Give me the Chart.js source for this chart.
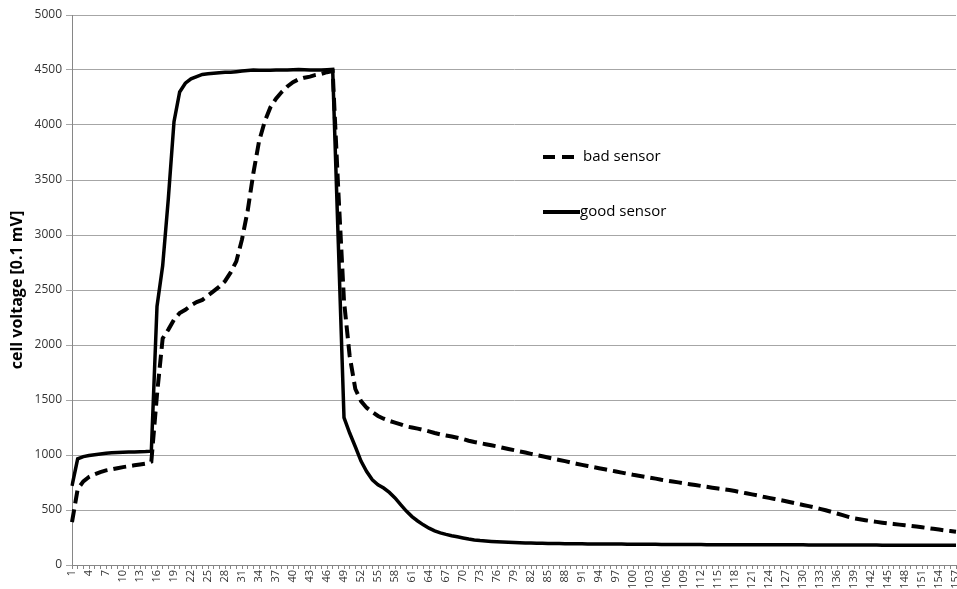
<!DOCTYPE html>
<html>
<head>
<meta charset="utf-8">
<title>cell voltage</title>
<script src="https://cdn.jsdelivr.net/npm/chart.js@4/dist/chart.umd.min.js"></script>
<style>
  html, body { margin: 0; padding: 0; background: #fff; }
  #wrap { width: 957px; height: 589px; }
</style>
</head>
<body>
<div id="wrap"><canvas id="voltageChart" width="957" height="589"></canvas></div>
<script>
// sample number along the x axis (1 .. 157)
const categories = Array.from({ length: 157 }, (_, i) => String(i + 1));

// cell voltage in 0.1 mV
const badSensor = [
  390, 690, 760, 800, 825, 845, 860, 870, 880, 890,
  898, 906, 914, 922, 940, 1550, 2060, 2140, 2230, 2290,
  2320, 2360, 2390, 2410, 2450, 2490, 2530, 2580, 2660, 2760,
  2960, 3220, 3560, 3850, 4030, 4160, 4240, 4300, 4350, 4390,
  4415, 4430, 4440, 4455, 4465, 4480, 4490, 3400, 2400, 1900,
  1600, 1490, 1430, 1390, 1355, 1330, 1310, 1295, 1278, 1260,
  1250, 1240, 1228, 1215, 1200, 1188, 1178, 1168, 1157, 1145,
  1130, 1118, 1108, 1098, 1088, 1078, 1066, 1055, 1044, 1033,
  1022, 1010, 998, 988, 977, 966, 955, 944, 932, 921,
  910, 900, 890, 880, 870, 860, 850, 840, 830, 820,
  812, 803, 794, 785, 775, 767, 759, 751, 743, 735,
  727, 719, 711, 703, 695, 688, 681, 672, 662, 652,
  642, 632, 620, 610, 600, 590, 580, 568, 557, 546,
  535, 523, 510, 498, 483, 468, 453, 438, 425, 416,
  407, 399, 392, 385, 379, 373, 367, 361, 355, 349,
  343, 336, 329, 322, 315, 309, 303
];

const goodSensor = [
  720, 965, 985, 995, 1003, 1010, 1015, 1020, 1022, 1025,
  1027, 1028, 1030, 1031, 1035, 2350, 2720, 3330, 4030, 4300,
  4380, 4420, 4440, 4460, 4465, 4470, 4475, 4480, 4480, 4485,
  4490, 4495, 4500, 4498, 4497, 4498, 4499, 4500, 4500, 4502,
  4505, 4503, 4500, 4500, 4500, 4502, 4505, 2920, 1340, 1200,
  1075, 945, 850, 775, 730, 700, 660, 610, 548, 490,
  440, 400, 365, 335, 310, 292, 278, 266, 256, 246,
  236, 228, 222, 218, 214, 211, 208, 206, 204, 202,
  200, 199, 198, 197, 196, 195, 195, 194, 194, 193,
  193, 192, 192, 191, 191, 190, 190, 190, 189, 189,
  188, 188, 188, 188, 187, 187, 187, 187, 186, 186,
  186, 186, 185, 185, 185, 185, 185, 185, 185, 185,
  184, 184, 184, 184, 184, 183, 183, 183, 183, 183,
  182, 182, 182, 182, 182, 182, 181, 181, 181, 181,
  181, 181, 181, 180, 180, 180, 180, 180, 180, 180,
  180, 180, 180, 180, 180, 180, 180
];

const yTicks = [0, 500, 1000, 1500, 2000, 2500, 3000, 3500, 4000, 4500, 5000];
const seriesNames = ['bad sensor', 'good sensor'];

const FONT = "'Open Sans', 'Liberation Sans', sans-serif";

// legend drawn inside the plot, like the original
const innerLegend = {
    id: 'innerLegend',
    afterDraw(chart) {
        const ctx = chart.ctx;
        const rows = [
            { name: seriesNames[0], y: 157, x0: 543, x1: 576, dash: [12, 7], textX: 583 },
            { name: seriesNames[1], y: 212, x0: 543, x1: 580, dash: [], textX: 580 }
        ];
        ctx.save();
        rows.forEach(r => {
            ctx.beginPath();
            ctx.setLineDash(r.dash);
            ctx.lineWidth = 4;
            ctx.strokeStyle = '#000';
            ctx.moveTo(r.x0, r.y);
            ctx.lineTo(r.x1, r.y);
            ctx.stroke();
            ctx.setLineDash([]);
            ctx.fillStyle = '#000';
            ctx.font = '15px ' + FONT;
            ctx.textBaseline = 'middle';
            ctx.fillText(r.name, r.textX, r.y);
        });
        ctx.restore();
    }
};

const ctx = document.getElementById('voltageChart').getContext('2d');

new Chart(ctx, {
    type: 'line',
    data: {
        labels: categories,
        datasets: [{
            label: seriesNames[0],
            data: badSensor,
            borderColor: '#000',
            borderWidth: 4,
            borderDash: [13, 6],
            borderCapStyle: 'butt',
            pointRadius: 0,
            tension: 0,
            fill: false
        }, {
            label: seriesNames[1],
            data: goodSensor,
            borderColor: '#000',
            borderWidth: 3.5,
            pointRadius: 0,
            tension: 0,
            fill: false
        }]
    },
    options: {
        responsive: false,
        animation: false,
        layout: { padding: { top: 15, right: 1, bottom: 0, left: 0 } },
        plugins: {
            legend: { display: false },
            tooltip: { enabled: false }
        },
        scales: {
            x: {
                offset: false,
                border: { color: '#868686', width: 1 },
                grid: { display: true, drawOnChartArea: false, drawTicks: true, tickLength: 4, color: '#868686' },
                ticks: {
                    autoSkip: false,
                    maxRotation: 90,
                    minRotation: 90,
                    padding: 1,
                    color: '#333',
                    font: { family: FONT, size: 11 },
                    callback: function (value, index) {
                        return index % 3 === 0 ? categories[index] : '';
                    }
                },
                afterFit: function (s) {
                    s.height = 24;
                    s.paddingLeft = 0;
                    s.paddingRight = 0;
                }
            },
            y: {
                min: 0,
                max: 5000,
                border: { color: '#868686', width: 1 },
                grid: { color: '#a6a6a6', lineWidth: 1, tickLength: 6 },
                afterBuildTicks: function (s) {
                    s.ticks = yTicks.map(v => ({ value: v }));
                },
                ticks: {
                    padding: 4,
                    color: '#333',
                    font: { family: FONT, size: 12 },
                    callback: function (value) {
                        return String(value);
                    }
                },
                title: {
                    display: true,
                    text: 'cell voltage [0.1 mV]',
                    color: '#000',
                    font: { family: FONT, size: 16, weight: 'bold' },
                    padding: { top: 8, bottom: 0 }
                },
                afterFit: function (s) {
                    s.width = 72;
                }
            }
        }
    },
    plugins: [innerLegend]
});
</script>
</body>
</html>
